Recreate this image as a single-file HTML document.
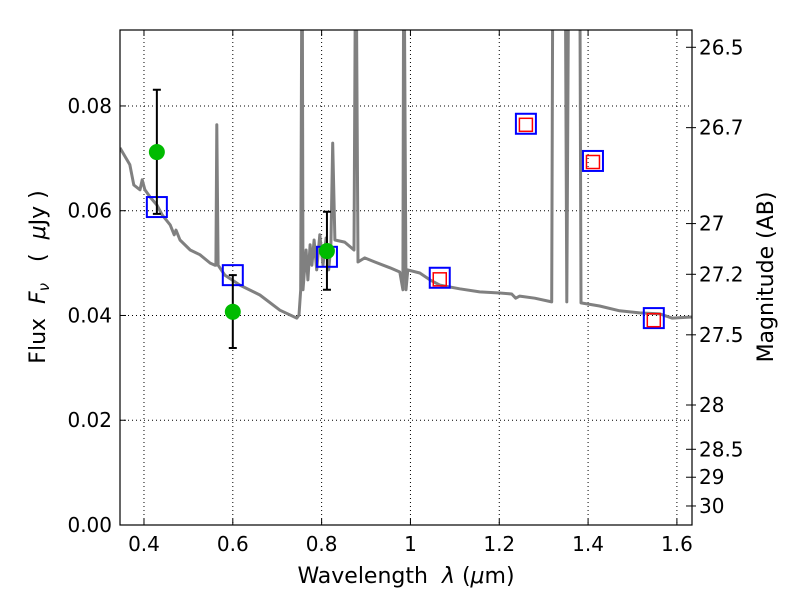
<!DOCTYPE html>
<html><head><meta charset="utf-8"><style>
body{margin:0;background:#fff}
svg text{font-family:"DejaVu Sans","Liberation Sans",sans-serif;fill:#000}
</style></head><body>
<svg id="c" width="800" height="600" xmlns="http://www.w3.org/2000/svg">
<defs><clipPath id="clip"><rect x="120" y="30" width="572" height="495"/></clipPath></defs>
<g id="grid"></g>
<g id="plot" clip-path="url(#clip)"></g>
<rect x="120" y="30" width="572" height="495" fill="none" stroke="#000" stroke-width="1.2"/>
<g id="axes"></g>
<text x="406" y="583" font-size="22" text-anchor="middle" xml:space="preserve">Wavelength  <tspan font-style="italic">λ</tspan> (<tspan font-style="italic">μ</tspan>m)</text>
<text transform="translate(45,277) rotate(-90)" font-size="22" text-anchor="middle" xml:space="preserve">Flux  <tspan font-style="italic">F</tspan><tspan font-style="italic" font-size="15" dy="4">ν</tspan><tspan dy="-4">   (  </tspan><tspan font-style="italic">μ</tspan>Jy )</text>
<text transform="translate(773,277) rotate(-90)" font-size="22" text-anchor="middle">Magnitude (AB)</text>
</svg>
<script>
const specLam=[0.346,0.368,0.377,0.391,0.396,0.402,0.414,0.429,0.441,0.459,0.468,0.472,0.481,0.504,0.526,0.549,0.560,0.562,0.564,0.567,0.582,0.616,0.661,0.706,0.744,0.749,0.753,0.756,0.758,0.765,0.769,0.774,0.778,0.783,0.789,0.796,0.803,0.810,0.816,0.821,0.825,0.830,0.852,0.873,0.877,0.882,0.897,0.920,0.954,0.976,0.983,0.985,0.990,0.994,1.021,1.044,1.066,1.111,1.156,1.201,1.228,1.237,1.246,1.280,1.318,1.321,1.348,1.352,1.357,1.381,1.384,1.426,1.471,1.516,1.562,1.589,1.634];
const specFlux=[0.0720,0.0688,0.0649,0.0640,0.0659,0.0640,0.0626,0.0611,0.0592,0.0573,0.0554,0.0563,0.0544,0.0525,0.0516,0.0500,0.0496,0.0496,0.0764,0.0496,0.0477,0.0458,0.0439,0.0410,0.0395,0.0401,0.0449,0.12,0.0449,0.0525,0.0468,0.0535,0.0496,0.0544,0.0487,0.0554,0.0496,0.0548,0.0487,0.0535,0.0729,0.0544,0.0540,0.0525,0.12,0.0502,0.0510,0.0502,0.0491,0.0483,0.0449,0.12,0.0449,0.0487,0.0481,0.0468,0.0458,0.0451,0.0445,0.0443,0.0441,0.0433,0.0437,0.0433,0.0426,0.12,0.12,0.0426,0.12,0.12,0.0424,0.0418,0.0409,0.0405,0.0403,0.0395,0.0397];
const modelLam=[0.429,0.600,0.812,1.066,1.260,1.411,1.548];
const modelFlux=[0.0607,0.0477,0.0512,0.0472,0.0766,0.0695,0.0395];
const fitLam=[1.066,1.260,1.411,1.548];
const fitFlux=[0.0469,0.0764,0.0693,0.0391];
const obsLam=[0.429,0.600,0.812];
const obsFlux=[0.0712,0.0407,0.0523];
const obsErrHi=[0.0831,0.0477,0.0598];
const obsErrLo=[0.0594,0.0338,0.0449];
const xTicks=[0.4,0.6,0.8,1.0,1.2,1.4,1.6];
const xTickLabels=["0.4","0.6","0.8","1","1.2","1.4","1.6"];
const yTicks=[0,0.02,0.04,0.06,0.08];
const yTickLabels=["0.00","0.02","0.04","0.06","0.08"];
const magTicks=[26.5,26.7,27,27.2,27.5,28,28.5,29,30];
const magTickLabels=["26.5","26.7","27","27.2","27.5","28","28.5","29","30"];

const X0=120,X1=692,Y0=525,Y1=30,xmin=0.346,xmax=1.634,ymin=0,ymax=0.0945;
const sx=v=>X0+(v-xmin)/(xmax-xmin)*(X1-X0);
const sy=v=>Y0-(v-ymin)/(ymax-ymin)*(Y0-Y1);
const magToFlux=m=>Math.pow(10,(23.9-m)/2.5);
const NS="http://www.w3.org/2000/svg";
function mk(tag,parent,attrs){const e=document.createElementNS(NS,tag);for(const k in attrs)e.setAttribute(k,attrs[k]);parent.appendChild(e);return e;}
const grid=document.getElementById('grid'),plot=document.getElementById('plot'),axes=document.getElementById('axes');

xTicks.forEach((t,i)=>{
  const x=sx(t);
  const g=mk('line',grid,{x1:x,x2:x,y1:Y1,y2:Y0,stroke:'#000','stroke-width':1,'stroke-dasharray':'1,3'});
  
  
  mk('line',axes,{x1:x,x2:x,y1:Y0,y2:Y0-6,stroke:'#000'});
  mk('line',axes,{x1:x,x2:x,y1:Y1,y2:Y1+6,stroke:'#000'});
  const tx=mk('text',axes,{x:x,y:Y0+26,'font-size':20,'text-anchor':'middle'});
  tx.textContent=xTickLabels[i];
  
  
});
yTicks.forEach((t,i)=>{
  const y=sy(t);
  const g=mk('line',grid,{x1:X0,x2:X1,y1:y,y2:y,stroke:'#000','stroke-width':1,'stroke-dasharray':'1,3'});
  
  
  mk('line',axes,{x1:X0,x2:X0+6,y1:y,y2:y,stroke:'#000'});
  const tx=mk('text',axes,{x:X0-8,y:y+7,'font-size':20,'text-anchor':'end'});
  tx.textContent=yTickLabels[i];
  
  
});
magTicks.forEach((m,i)=>{
  const y=sy(magToFlux(m));
  mk('line',axes,{x1:X1,x2:X1-6,y1:y,y2:y,stroke:'#000'});
  mk('line',axes,{x1:X1,x2:X1+4,y1:y,y2:y,stroke:'#000'});
  const tx=mk('text',axes,{x:X1+7,y:y+7,'font-size':20,'text-anchor':'start'});
  tx.textContent=magTickLabels[i];
  
  
});

const pts=specLam.map((l,i)=>sx(l).toFixed(1)+','+sy(specFlux[i]).toFixed(1)).join(' ');
const sp=mk('polyline',plot,{points:pts,fill:'none',stroke:'#808080','stroke-width':3,'stroke-linejoin':'round'});



modelLam.forEach((l,i)=>{
  const r=mk('rect',plot,{x:sx(l)-10,y:sy(modelFlux[i])-10,width:20,height:20,fill:'none',stroke:'#0000ff','stroke-width':2});
  
  
});
fitLam.forEach((l,i)=>{
  const r=mk('rect',plot,{x:sx(l)-6.5,y:sy(fitFlux[i])-6.5,width:13,height:13,fill:'none',stroke:'#ff0000','stroke-width':1.5});
  
  
});
obsLam.forEach((l,i)=>{
  const x=sx(l),yh=sy(obsErrHi[i]),yl=sy(obsErrLo[i]);
  const e=mk('path',plot,{d:`M${x},${yh}V${yl}M${x-4},${yh}H${x+4}M${x-4},${yl}H${x+4}`,stroke:'#000','stroke-width':2,fill:'none'});
  
  
  const c=mk('circle',plot,{cx:x,cy:sy(obsFlux[i]),r:8,fill:'#00bb00'});
  
  
});
</script>
</body></html>
